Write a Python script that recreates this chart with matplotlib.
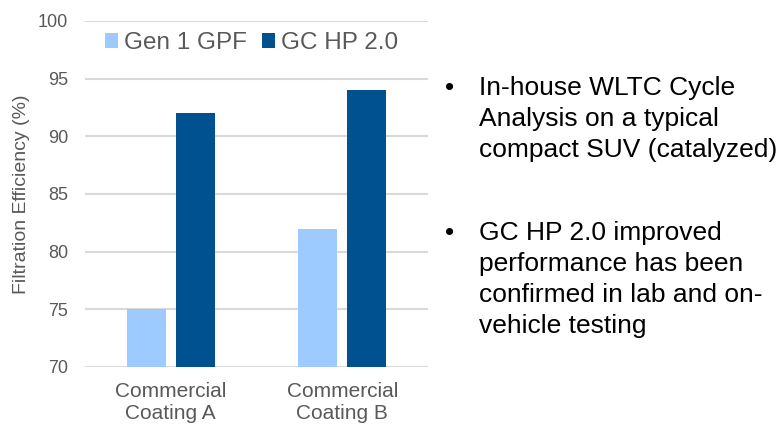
import numpy as np
import matplotlib.pyplot as plt

plt.rcParams['font.family'] = ['Liberation Sans', 'DejaVu Sans']

categories = ["Commercial\nCoating A", "Commercial\nCoating B"]
series_names = ["Gen 1 GPF", "GC HP 2.0"]
gen1_gpf = [75, 82]
gc_hp = [92, 94]
y_ticks = [70, 75, 80, 85, 90, 95, 100]

bullets = [
    ["In-house WLTC Cycle", "Analysis on a typical", "compact SUV (catalyzed)"],
    ["GC HP 2.0 improved", "performance has been", "confirmed in lab and on-", "vehicle testing"],
]

light = "#9dcbff"
dark = "#00518f"
grey = "#595959"

fig = plt.figure(figsize=(7.79, 4.25), dpi=100)
ax = fig.add_axes([0.1091, 0.1365, 0.4403, 0.8141])

x = np.arange(len(categories))
w = 0.227
off = 0.143
ax.bar(x - off, gen1_gpf, w, color=light, label=series_names[0], zorder=3)
ax.bar(x + off, gc_hp, w, color=dark, label=series_names[1], zorder=3)

ax.set_xlim(-0.5, 1.5)
ax.set_ylim(70, 100)
ax.set_yticks(y_ticks)
ax.set_xticks(x)
ax.set_xticklabels(categories, fontsize=15, color=grey, linespacing=1.2)
ax.tick_params(axis='y', labelsize=13, labelcolor=grey, length=0, pad=12)
ax.tick_params(axis='x', length=0, pad=11)
ax.grid(axis='y', color="#d9d9d9", linewidth=1.5, zorder=0)
for s in ax.spines.values():
    s.set_visible(False)
ax.set_ylabel("Filtration Efficiency (%)", fontsize=14, color=grey, labelpad=6)

leg = ax.legend(loc='center', bbox_to_anchor=(0.485, 0.936), ncol=2, frameon=False,
                fontsize=17.5, handlelength=0.55, handleheight=0.55,
                handletextpad=0.25, columnspacing=0.6, labelcolor=grey)

# bullet text on the right
H = 425.0
W = 779.0
starts = [95, 240]
for lines, y0 in zip(bullets, starts):
    fig.text(445 / W, 1 - y0 / H, "\u2022", fontsize=19, color="black", va='baseline', ha='left')
    for i, line in enumerate(lines):
        fig.text(479 / W, 1 - (y0 + i * 31) / H, line, fontsize=19, color="black",
                 va='baseline', ha='left')

fig.savefig("out.png", dpi=100)
